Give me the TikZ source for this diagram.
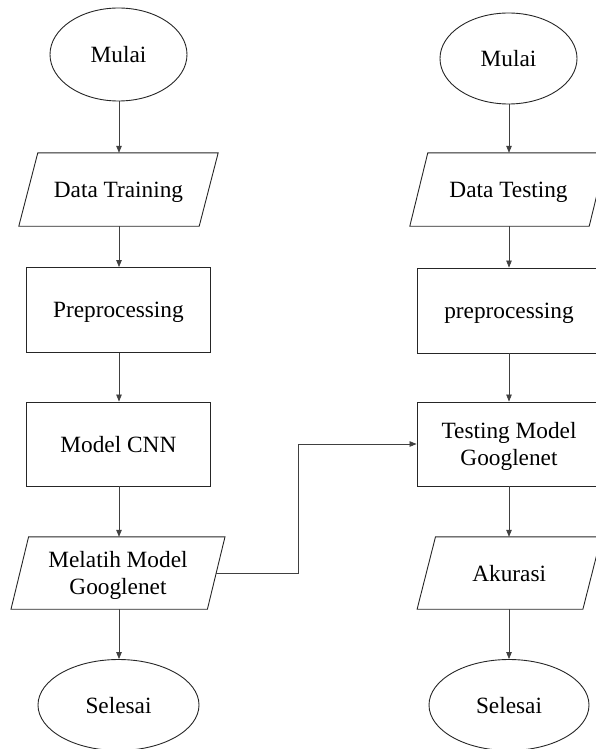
\documentclass[tikz,border=0pt]{standalone}
\usepackage{fontspec}
\setmainfont{Liberation Serif}
\usetikzlibrary{shapes.geometric,arrows.meta}

\tikzset{
  every node/.style={font=\fontsize{23.3}{27}\selectfont, align=center, text=black, text depth=0pt},
  terminal/.style={ellipse, draw=black!85, line width=0.9pt, inner sep=0pt},
  process/.style={rectangle, draw=black!85, line width=0.9pt, inner sep=0pt},
  iobase/.style={rectangle, inner sep=0pt},
  ioline/.style={draw=black!85, line width=0.9pt, line join=miter},
  flow/.style={draw=black!75, line width=0.7pt, -{Triangle[length=7pt,width=5.5pt]}},
}

% parallelogram (input/output) drawn around a named base rectangle
\newcommand\drawio[2]{%
  \draw[ioline] ([xshift=#2]#1.north west) -- ([xshift=#2]#1.north east)
    -- ([xshift=-#2]#1.south east) -- ([xshift=-#2]#1.south west) -- cycle;}

\begin{document}
\begin{tikzpicture}[x=1pt,y=-1pt]
\useasboundingbox (0,0) rectangle (596,749);
\clip (0,0) rectangle (596,749);

% training flow
\node[terminal, minimum width=137pt, minimum height=93pt] (m1) at (118.5,54.5) {Mulai};
\node[iobase, minimum width=180pt, minimum height=73pt] (dt) at (118.5,189.5) {Data Training};
\node[process, minimum width=183.5pt, minimum height=85pt] (pp) at (118.4,310) {Preprocessing};
\node[process, minimum width=183.5pt, minimum height=84pt] (cnn) at (118.4,444) {Model CNN};
\node[iobase, minimum width=196pt, minimum height=72pt] (mm) at (118,573) {Melatih Model\\Googlenet};
\node[terminal, minimum width=161pt, minimum height=91pt] (s1) at (118.5,705) {Selesai};

% testing flow
\node[terminal, minimum width=137pt, minimum height=91pt] (m2) at (508.5,58.5) {Mulai};
\node[iobase, minimum width=179pt, minimum height=73pt] (dts) at (508.5,189.5) {Data Testing};
\node[process, minimum width=184pt, minimum height=85pt] (pp2) at (509,310.5) {preprocessing};
\node[process, minimum width=184pt, minimum height=84pt] (tm) at (509,444) {Testing Model\\Googlenet};
\node[iobase, minimum width=165.4pt, minimum height=72pt] (ak) at (509.2,573) {Akurasi};
\node[terminal, minimum width=160pt, minimum height=91pt] (s2) at (509,705) {Selesai};

\drawio{dt}{9.5pt}
\drawio{mm}{8.8pt}
\drawio{dts}{9pt}
\drawio{ak}{9.2pt}

% vertical connectors
\coordinate (cl) at (119,0);
\coordinate (cr) at (509,0);
\draw[flow] (cl |- m1.south) -- (cl |- dt.north);
\draw[flow] (cl |- dt.south) -- (cl |- pp.north);
\draw[flow] (cl |- pp.south) -- (cl |- cnn.north);
\draw[flow] (cl |- cnn.south) -- (cl |- mm.north);
\draw[flow] (cl |- mm.south) -- (cl |- s1.north);

\draw[flow] (cr |- m2.south) -- (cr |- dts.north);
\draw[flow] (cr |- dts.south) -- (cr |- pp2.north);
\draw[flow] (cr |- pp2.south) -- (cr |- tm.north);
\draw[flow] (cr |- tm.south) -- (cr |- ak.north);
\draw[flow] (cr |- ak.south) -- (cr |- s2.north);

% trained model handed over to testing
\coordinate (elbow) at (298,0);
\draw[flow] (mm.east) -- (elbow |- mm.east) |- (tm.west);
\end{tikzpicture}
\end{document}
